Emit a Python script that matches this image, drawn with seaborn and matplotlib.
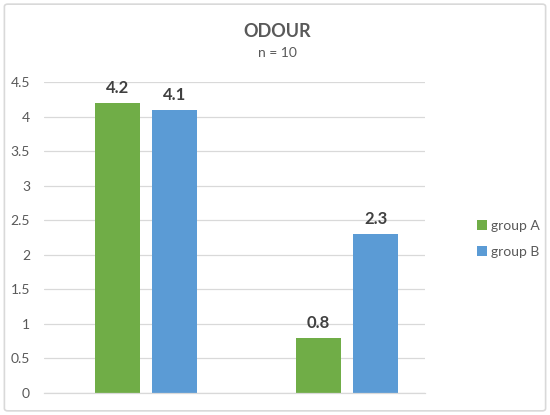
import matplotlib
matplotlib.use("Agg")
import matplotlib.pyplot as plt
import seaborn as sns
import pandas as pd
from matplotlib.patches import FancyBboxPatch, Patch

categories = ["1", "2"]
groups = ["group A", "group B"]
group_a = [4.2, 0.8]
group_b = [4.1, 2.3]
yticks = [0, 0.5, 1, 1.5, 2, 2.5, 3, 3.5, 4, 4.5]
ytick_labels = ["0", "0.5", "1", "1.5", "2", "2.5", "3", "3.5", "4", "4.5"]

df = pd.DataFrame({
    "cat": categories * 2,
    "group": [groups[0]] * 2 + [groups[1]] * 2,
    "value": group_a + group_b,
})

sns.set_theme(style="white")
plt.rcParams["font.family"] = ["Lato", "DejaVu Sans"]

fig = plt.figure(figsize=(5.5, 4.15), dpi=100)
ax = fig.add_axes([0.08, 0.053, 0.6927, 0.749])

palette = {"group A": "#70AD47", "group B": "#5B9BD5"}
sns.barplot(data=df, x="cat", y="value", hue="group", palette=palette,
            width=0.572, gap=0.217, ax=ax, legend=False, saturation=1,
            linewidth=0, edgecolor="none")

ax.set_xlim(-0.507, 1.388)
ax.set_ylim(0, 4.5)
ax.set_yticks(yticks)
ax.set_yticklabels(ytick_labels)
ax.set_xticks([])
ax.set_xlabel("")
ax.set_ylabel("")
ax.grid(axis="y", color="#D9D9D9", linewidth=0.9)
ax.set_axisbelow(True)
for s in ["top", "right", "left"]:
    ax.spines[s].set_visible(False)
ax.spines["bottom"].set_color("#D9D9D9")
ax.spines["bottom"].set_linewidth(0.9)
ax.tick_params(axis="y", length=0, labelsize=10, labelcolor="#595959", pad=10)

for cont in ax.containers:
    ax.bar_label(cont, fmt="%.1f", padding=5, fontsize=12, fontweight="bold", color="#404040")

fig.text(0.504, 0.925, "ODOUR", ha="center", va="center", fontsize=13,
         fontweight="bold", color="#595959")
fig.text(0.504, 0.872, "n = 10", ha="center", va="center", fontsize=10, color="#595959")

handles = [Patch(facecolor=palette[g], edgecolor="none") for g in groups]
leg = fig.legend(handles, groups, loc="center left", bbox_to_anchor=(0.845, 0.425),
                 frameon=False, fontsize=10, handlelength=0.7, handleheight=0.7,
                 handletextpad=0.3, labelspacing=1.0)
for t in leg.get_texts():
    t.set_color("#595959")

border = FancyBboxPatch((0.008, 0.01), 0.984, 0.98, boxstyle="round,pad=0,rounding_size=0.006",
                        transform=fig.transFigure, fill=False, edgecolor="#D9D9D9", linewidth=1.2)
fig.patches.append(border)

fig.savefig("out.png", dpi=100)
